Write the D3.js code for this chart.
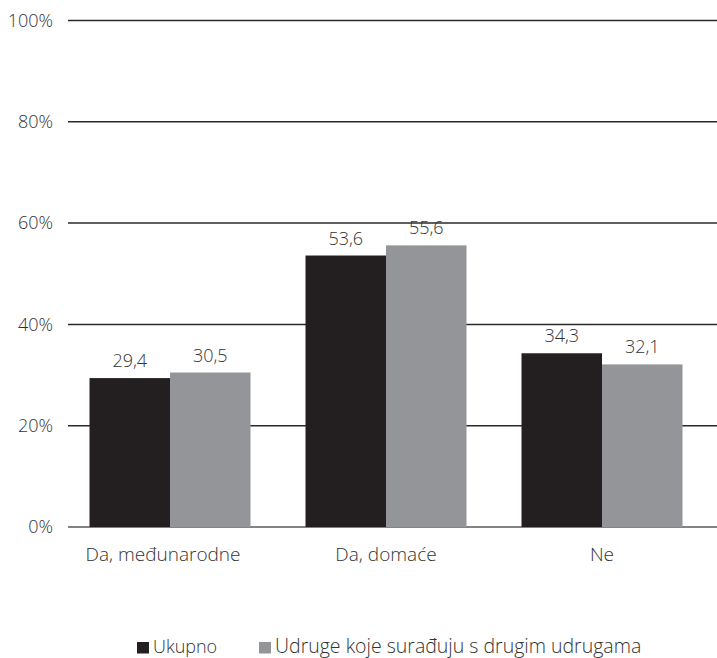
<!DOCTYPE html>
<html>
<head>
<meta charset="utf-8">
<script src="https://cdn.jsdelivr.net/npm/d3@7"></script>
<style>
  html, body { margin: 0; padding: 0; background: #fff; }
  text { font-family: "Open Sans", "Noto Sans", sans-serif; font-weight: 300; fill: #333; }
</style>
</head>
<body>
<svg id="chart" width="717" height="658"></svg>
<script>
const categories = ["Da, međunarodne", "Da, domaće", "Ne"];
const seriesNames = ["Ukupno", "Udruge koje surađuju s drugim udrugama"];
const ukupno = [29.4, 53.6, 34.3];
const udruge = [30.5, 55.6, 32.1];
const yTicks = [0, 20, 40, 60, 80, 100];
const colors = ["#231f20", "#939598"];

const series = [ukupno, udruge];
const svg = d3.select("#chart");

const y = d3.scaleLinear().domain([0, 100]).range([527, 20.5]);
const x = d3.scaleBand().domain(categories).range([62, 710]).paddingInner(0).paddingOuter(0);
const xs = d3.scaleBand().domain(d3.range(series.length)).range([0, 161]);

// gridlines and tick labels
const grid = svg.append("g");
yTicks.forEach(t => {
  grid.append("line")
    .attr("x1", 68).attr("x2", 717)
    .attr("y1", y(t)).attr("y2", y(t))
    .attr("stroke", t === 0 ? "#5a5a5a" : "#2a2a2a")
    .attr("stroke-width", 1.5);
  grid.append("text")
    .attr("x", 53).attr("y", y(t))
    .attr("dy", "0.35em")
    .attr("text-anchor", "end")
    .style("font-size", "18px")
    .text(t + "%");
});

// bars
const groups = svg.append("g").selectAll("g")
  .data(categories)
  .join("g")
  .attr("transform", d => `translate(${x(d) + (x.bandwidth() - 161) / 2},0)`);

series.forEach((vals, si) => {
  groups.append("rect")
    .attr("x", xs(si))
    .attr("width", xs.bandwidth())
    .attr("y", (d, i) => y(vals[i]))
    .attr("height", (d, i) => y(0) - y(vals[i]))
    .attr("fill", colors[si]);
  groups.append("text")
    .attr("x", xs(si) + xs.bandwidth() / 2)
    .attr("y", (d, i) => y(vals[i]) - 11)
    .attr("text-anchor", "middle")
    .style("font-size", "18px")
    .text((d, i) => d3.format(".1f")(vals[i]).replace(".", ","));
});

// category labels
svg.append("g").selectAll("text")
  .data(categories)
  .join("text")
  .attr("x", (d, i) => x(d) + x.bandwidth() / 2 - (i === 0 ? 7 : 0))
  .attr("y", 561)
  .attr("text-anchor", "middle")
  .style("font-size", "19px")
  .text(d => d);

// legend
const legendX = [137, 259];
const lg = svg.append("g");
seriesNames.forEach((name, i) => {
  lg.append("rect")
    .attr("x", legendX[i]).attr("y", 642)
    .attr("width", 12).attr("height", 11.5)
    .attr("fill", colors[i]);
  lg.append("text")
    .attr("x", legendX[i] + 16).attr("y", 653)
    .style("font-size", i === 0 ? "18px" : "19.5px")
    .text(name);
});
</script>
</body>
</html>
